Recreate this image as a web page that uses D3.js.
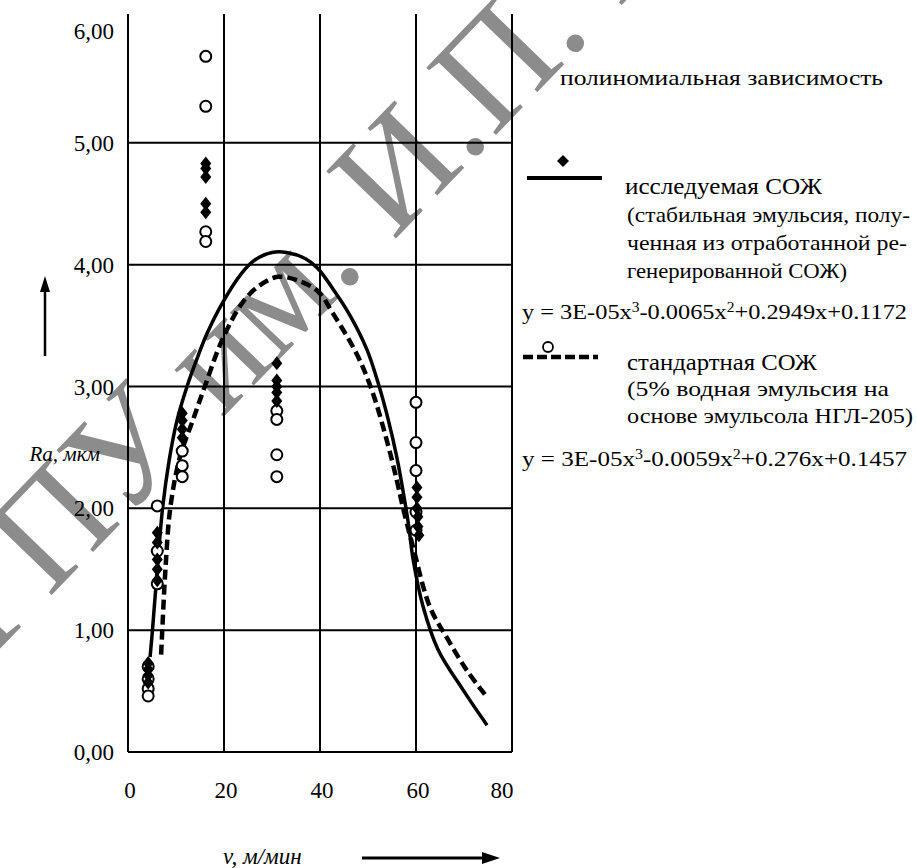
<!DOCTYPE html>
<html>
<head>
<meta charset="utf-8">
<script src="https://cdnjs.cloudflare.com/ajax/libs/d3/7.8.5/d3.min.js"></script>
<style>
body { margin:0; background:#fff; }
svg { display:block; }
svg text { font-family:"Liberation Serif","Times New Roman",serif; }
</style>
</head>
<body>
<svg id="chart" width="917" height="868"></svg>
<script>
// ticks
var xTicks = [0, 20, 40, 60, 80];
var yTicks = [0, 1, 2, 3, 4, 5, 6];

// исследуемая СОЖ - measured points (diamonds)
var studyX = [4.2, 4.2, 4.2, 4.2, 6.1, 6.1, 6.1, 6.1, 6.1, 11.3, 11.3, 11.3, 11.3,
	16.2, 16.2, 16.2, 16.2, 16.2, 31, 31, 31, 31, 31, 60.2, 60.2, 60.2, 60.4, 60.4, 60.6];
var studyY = [0.73, 0.68, 0.63, 0.57, 1.80, 1.72, 1.58, 1.50, 1.41, 2.78, 2.72, 2.65, 2.58,
	4.83, 4.79, 4.72, 4.50, 4.43, 3.19, 3.05, 3.00, 2.95, 2.88, 2.17, 2.09, 2.00, 1.93, 1.85, 1.78];

// стандартная СОЖ - measured points (circles)
var standardX = [4.2, 4.2, 4.2, 4.2, 6.1, 6.1, 6.1, 11.3, 11.3, 11.3,
	16.2, 16.2, 16.2, 16.2, 31, 31, 31, 31, 60, 60, 60, 60, 60];
var standardY = [0.70, 0.60, 0.52, 0.46, 2.02, 1.65, 1.38, 2.47, 2.35, 2.26,
	5.71, 5.30, 4.27, 4.19, 2.80, 2.73, 2.44, 2.26, 2.87, 2.54, 2.31, 1.97, 1.82];

// trend curves as drawn
var studyCurveX = [4.6, 5.1, 6.1, 7.2, 8.6, 10.2, 12.3, 14.3, 16.3, 19.6, 23.7, 26.5, 30, 33, 36.9,
	39.5, 42.7, 46.3, 49.8, 52.1, 54.2, 56, 57.4, 58.5, 59.4, 61.5, 64.6, 69.8, 74.8];
var studyCurveY = [0.78, 1.0, 1.5, 2.0, 2.4, 2.72, 3.0, 3.22, 3.42, 3.68, 3.93, 4.04, 4.1, 4.1, 4.05,
	3.97, 3.8, 3.58, 3.3, 3.03, 2.73, 2.42, 2.12, 1.85, 1.58, 1.19, 0.84, 0.51, 0.22];
var standardCurveX = [6.9, 7.2, 7.8, 8.8, 10.8, 13.3, 16, 19.6, 23.7, 27.1, 31.2, 35.4, 39.6,
	42.7, 47.6, 50.8, 53.9, 56, 57.2, 59.4, 62.9, 66.4, 70.6, 74.8];
var standardCurveY = [0.8, 1.05, 1.5, 2.0, 2.42, 2.7, 3.0, 3.38, 3.68, 3.82, 3.9, 3.87, 3.78,
	3.6, 3.27, 2.97, 2.56, 2.23, 2.02, 1.68, 1.19, 0.94, 0.67, 0.45];

var svg = d3.select("#chart");
var x = d3.scaleLinear().domain([0, 80]).range([128, 512]);
var y = d3.scaleLinear().domain([0, 6]).range([752, 21]);
var plotTop = 14;

function fmt(v) {
	return d3.format(".2f")(v).replace(".", ",");
}

function drawWatermark() {
	var size = 148, ang = -46;
	var wm = svg.append("text")
		.attr("font-size", size)
		.attr("fill", "#8c8c8c")
		.text("МГПУ им. И.П. Шамякина");
	var node = wm.node();
	var idx = wm.text().indexOf(".");
	var off = node.getSubStringLength(0, idx) + size * 0.12;
	var rad = ang * Math.PI / 180;
	var sx = 354 - off * Math.cos(rad);
	var sy = 282 - off * Math.sin(rad);
	wm.attr("transform", "translate(" + sx + "," + sy + ") rotate(" + ang + ")");
}

function drawGrid() {
	var g = svg.append("g").attr("stroke", "#000").attr("stroke-width", 2);
	g.selectAll(".hl").data(yTicks.filter(function(d) { return d > 0 && d < 6; }))
		.enter().append("line")
		.attr("x1", x(0)).attr("x2", x(80))
		.attr("y1", function(d) { return y(d); })
		.attr("y2", function(d) { return y(d); });
	g.selectAll(".vl").data(xTicks)
		.enter().append("line")
		.attr("x1", function(d) { return x(d); })
		.attr("x2", function(d) { return x(d); })
		.attr("y1", plotTop).attr("y2", y(0));
	g.append("line").attr("x1", x(0)).attr("x2", x(80)).attr("y1", y(0)).attr("y2", y(0));

	// tick labels (the top one sits a little lower in the original)
	svg.append("g").selectAll("text").data(yTicks).enter().append("text")
		.attr("x", 114).attr("y", function(d) { return y(d) + (d == 6 ? 18 : 8); })
		.attr("text-anchor", "end").attr("font-size", 23)
		.text(fmt);
	svg.append("g").selectAll("text").data(xTicks).enter().append("text")
		.attr("x", function(d) { return d == 80 ? x(d) - 10 : x(d) + 2; })
		.attr("y", 798)
		.attr("text-anchor", "middle").attr("font-size", 23)
		.text(function(d) { return d; });
}

function drawCurves() {
	var line = d3.line()
		.x(function(d) { return x(d[0]); })
		.y(function(d) { return y(d[1]); })
		.curve(d3.curveCatmullRom.alpha(0.5));
	var solid = d3.zip(studyCurveX, studyCurveY);
	var dashed = d3.zip(standardCurveX, standardCurveY);
	svg.append("path").datum(solid).attr("d", line)
		.attr("fill", "none").attr("stroke", "#000").attr("stroke-width", 3.5);
	svg.append("path").datum(dashed).attr("d", line)
		.attr("fill", "none").attr("stroke", "#000").attr("stroke-width", 4.5)
		.attr("stroke-dasharray", "10,5");
}

function diamondPath(cx, cy, w, h) {
	return "M" + cx + "," + (cy - h) + "L" + (cx + w) + "," + cy +
		"L" + cx + "," + (cy + h) + "L" + (cx - w) + "," + cy + "Z";
}

function drawPoints() {
	svg.append("g").selectAll("circle").data(d3.zip(standardX, standardY))
		.enter().append("circle")
		.attr("cx", function(d) { return x(d[0]); })
		.attr("cy", function(d) { return y(d[1]); })
		.attr("r", 5.5)
		.attr("fill", "#fff").attr("stroke", "#000").attr("stroke-width", 2);
	svg.append("g").selectAll("path").data(d3.zip(studyX, studyY))
		.enter().append("path")
		.attr("d", function(d) { return diamondPath(x(d[0]), y(d[1]), 5.5, 7); })
		.attr("fill", "#000");
}

function drawTitles() {
	svg.append("text").attr("x", 223).attr("y", 864)
		.attr("font-size", 23).attr("font-style", "italic")
		.text("v, м/мин");
	svg.append("line").attr("x1", 362).attr("x2", 490).attr("y1", 858).attr("y2", 858)
		.attr("stroke", "#000").attr("stroke-width", 3);
	svg.append("path").attr("d", "M500,858L482,852L482,864Z").attr("fill", "#000");

	svg.append("text").attr("x", 100).attr("y", 461)
		.attr("text-anchor", "end")
		.attr("font-size", 21).attr("font-style", "italic")
		.text("Ra, мкм");
	svg.append("line").attr("x1", 45).attr("x2", 45).attr("y1", 356).attr("y2", 290)
		.attr("stroke", "#000").attr("stroke-width", 2.5);
	svg.append("path").attr("d", "M45,276L40,292L50,292Z").attr("fill", "#000");
}

function addText(tx, ty, str, len, size) {
	return svg.append("text").attr("x", tx).attr("y", ty)
		.attr("font-size", size || 22)
		.attr("textLength", len).attr("lengthAdjust", "spacingAndGlyphs")
		.text(str);
}

function addEquation(tx, ty, parts, len) {
	var t = svg.append("text").attr("x", tx).attr("y", ty).attr("font-size", 22)
		.attr("textLength", len).attr("lengthAdjust", "spacingAndGlyphs");
	parts.forEach(function(p) {
		var s = t.append("tspan").text(p[0]);
		if (p[1]) s.attr("baseline-shift", "super").attr("font-size", 14);
	});
}

function drawLegend() {
	addText(560, 85, "полиномиальная зависимость", 323);

	svg.append("path").attr("d", diamondPath(563, 161, 6, 6)).attr("fill", "#000");
	svg.append("line").attr("x1", 527).attr("x2", 602).attr("y1", 178).attr("y2", 178)
		.attr("stroke", "#000").attr("stroke-width", 4);
	addText(625, 194, "исследуемая СОЖ", 197, 23);
	addText(627, 222, "(стабильная эмульсия, полу-", 283);
	addText(627, 250, "ченная из отработанной ре-", 280);
	addText(627, 278, "генерированной СОЖ)", 220);
	addEquation(522, 319, [["y = 3E-05x"], ["3", 1], ["-0.0065x"], ["2", 1], ["+0.2949x+0.1172"]], 385);

	svg.append("circle").attr("cx", 548).attr("cy", 347).attr("r", 5)
		.attr("fill", "#fff").attr("stroke", "#000").attr("stroke-width", 1.8);
	svg.append("line").attr("x1", 523).attr("x2", 598).attr("y1", 357).attr("y2", 357)
		.attr("stroke", "#000").attr("stroke-width", 4.5).attr("stroke-dasharray", "10,4");
	addText(627, 370, "стандартная СОЖ", 190, 23);
	addText(627, 396, "(5% водная эмульсия на", 262);
	addText(627, 423, "основе эмульсола НГЛ-205)", 286);
	addEquation(522, 466, [["y = 3E-05x"], ["3", 1], ["-0.0059x"], ["2", 1], ["+0.276x+0.1457"]], 385);
}

drawWatermark();
drawGrid();
drawCurves();
drawPoints();
drawTitles();
drawLegend();
</script>
</body>
</html>
